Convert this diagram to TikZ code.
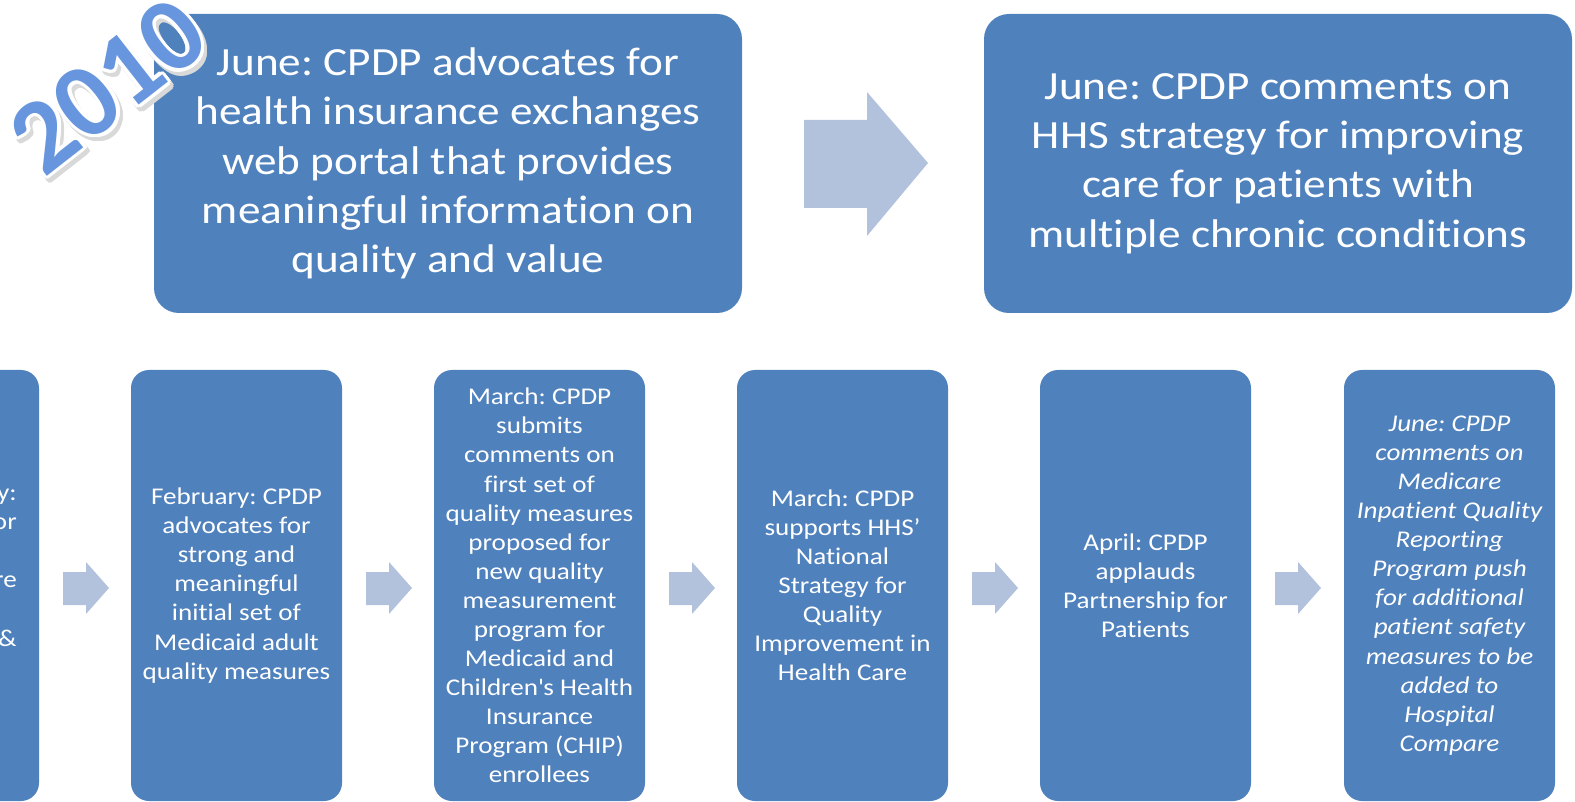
\documentclass[tikz,border=0pt]{standalone}
\usepackage{fontspec}
\setmainfont{Carlito}[FakeStretch=1.13, Ligatures=NoCommon]
\newfontfamily\yearfont{Carlito}
\usepackage{contour}
\contourlength{2.5pt}
\definecolor{boxblue}{RGB}{79,129,189}
\definecolor{arrowblue}{RGB}{178,194,221}
\definecolor{yearblue}{RGB}{104,150,222}
\frenchspacing

\begin{document}
\begin{tikzpicture}[x=0.75pt,y=-0.75pt,
    topbox/.style={fill=boxblue, rounded corners=18.75pt,
        minimum width=441pt, minimum height=224.25pt, inner sep=0pt,
        text=white, align=center, font=\fontsize{30}{37}\selectfont},
    lowbox/.style={fill=boxblue, rounded corners=13.5pt,
        minimum width=158.25pt, minimum height=323.25pt, inner sep=0pt,
        text=white, align=center, font=\fontsize{18}{21.8}\selectfont},
    blockarrow/.style={fill=arrowblue},
    year/.style={rotate=38, inner sep=0pt,
        font=\fontsize{79}{79}\selectfont\yearfont\bfseries}]
    \useasboundingbox (0,0) rectangle (1575,802);

    % top row
    \node[topbox] (june1) at (448,163.5) {June: CPDP advocates for\\
        health insurance exchanges\\ web portal that provides\\
        meaningful information on\\ quality and value};
    \node[topbox] (june2) at (1278,163.5) {June: CPDP comments on\\
        HHS strategy for improving\\ care for patients with\\
        multiple chronic conditions};
    \fill[blockarrow] (804,120) -- (867,120) -- (867,92) -- (928,163)
        -- (867,236) -- (867,208) -- (804,208) -- cycle;

    % bottom row
    \node[lowbox] (jan) at (-66.5,585.5) {};
    \node[lowbox, anchor=east, minimum width=0pt, minimum height=0pt,
        fill=none, align=right] (jantext) at (17,586.5)
        {y:\\ or\\ \strut\\ re\\ \strut\\ \&\\ \strut};
    \node[lowbox] (feb) at (236.5,585.5) {February: CPDP\\ advocates for\\
        strong and\\ meaningful\\ initial set of\\ Medicaid adult\\
        quality measures};
    \node[lowbox] (march1) at (539.5,585.5) {March: CPDP\\ submits\\
        comments on\\ first set of\\ quality measures\\ proposed for\\
        new quality\\ measurement\\ program for\\ Medicaid and\\
        Children\textquotesingle s Health\\ Insurance\\ Program (CHIP)\\
        enrollees};
    \node[lowbox] (march2) at (842.5,585.5) {March: CPDP\\ supports HHS’\\
        National\\ Strategy for\\ Quality\\ Improvement in\\ Health Care};
    \node[lowbox] (april) at (1145.5,585.5) {April: CPDP\\ applauds\\
        Partnership for\\ Patients};
    \node[lowbox, font=\fontsize{18}{21.8}\selectfont\itshape] (june3)
        at (1449.5,585.5) {June: CPDP\\ comments on\\ Medicare\\
        Inpatient Quality\\ Reporting\\ Program push\\ for additional\\
        patient safety\\ measures to be\\ added to\\ Hospital\\ Compare};
    \foreach \x in {63,366,669,972,1275}
        \fill[blockarrow] (\x,572) -- (\x+23,572) -- (\x+23,562)
            -- (\x+46,588) -- (\x+23,614) -- (\x+23,605) -- (\x,605) -- cycle;

    % year label
    \node[year, text=black!15] (yearshadow) at (112,91)
        {\contour{black!15}{2010}};
    \node[year, text=yearblue] (yeartext) at (109,87)
        {\contour{white}{2010}};
\end{tikzpicture}
\end{document}
